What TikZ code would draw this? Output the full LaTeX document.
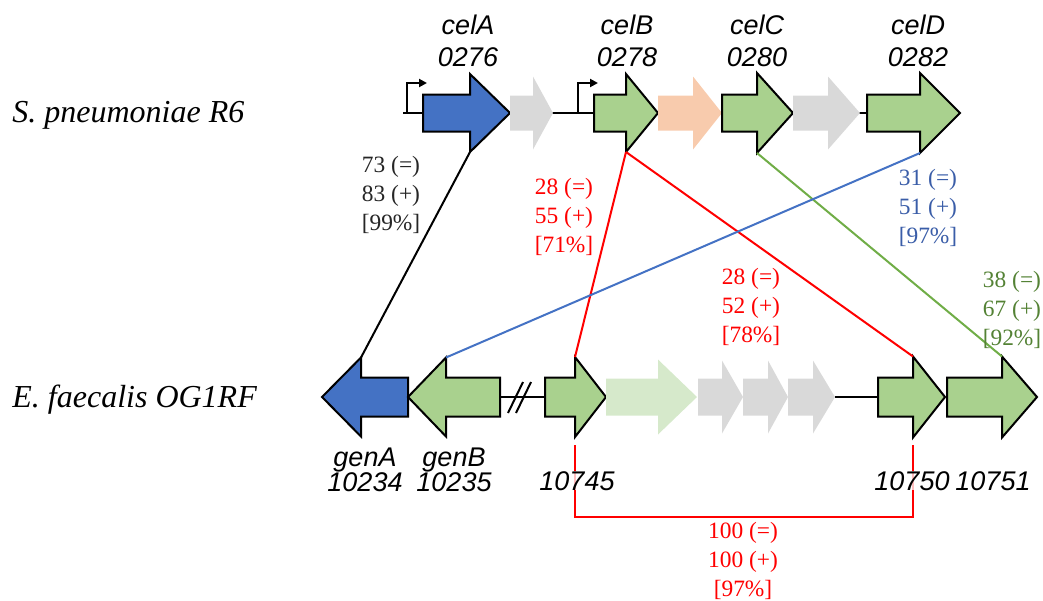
\documentclass[tikz,border=0pt]{standalone}
\usepackage{fontspec}
\setmainfont{Liberation Serif}
\setsansfont{Liberation Sans}
\usetikzlibrary{arrows.meta}

\definecolor{geneblue}{HTML}{4472C4}
\definecolor{genegreen}{HTML}{A9D18E}
\definecolor{genegray}{HTML}{D9D9D9}
\definecolor{geneorange}{HTML}{F8CBAD}
\definecolor{genefaded}{HTML}{D6E9CB}
\definecolor{statblack}{HTML}{262626}
\definecolor{statblue}{HTML}{3A5DA8}
\definecolor{statgreen}{HTML}{548235}
\definecolor{linegreen}{HTML}{70AD47}

% gene arrow: name, tail x, head base x, tip x, centre y, body half, head half, style
\newcommand{\genearrow}[8]{%
  \path[#8] (#2,#5-#6) -- (#3,#5-#6) -- (#3,#5-#7) -- (#4,#5)
    -- (#3,#5+#7) -- (#3,#5+#6) -- (#2,#5+#6) -- cycle;
  \coordinate (#1-top) at (#3,#5-#7);
  \coordinate (#1-bot) at (#3,#5+#7);}

\begin{document}
\begin{tikzpicture}[
  x=0.5pt, y=-0.5pt,
  bluegene/.style={fill=geneblue, draw=black, line width=1pt, line join=miter},
  greengene/.style={fill=genegreen, draw=black, line width=1pt, line join=miter},
  graygene/.style={fill=genegray},
  orangegene/.style={fill=geneorange},
  fadedgene/.style={fill=genefaded},
  backbone/.style={line width=1.4pt},
  promoter/.style={line width=1.2pt, -{Triangle[length=4pt, width=4pt]}},
  link/.style={line width=1pt},
  genelab/.style={font=\sffamily\itshape\fontsize{13.5}{16}\selectfont, align=center, inner sep=0},
  genelabb/.style={font=\sffamily\itshape\fontsize{13.5}{12.5}\selectfont, align=center, inner sep=0},
  species/.style={font=\itshape\fontsize{16}{18}\selectfont, inner sep=0, anchor=base west},
  stat/.style={font=\fontsize{11.7}{14.5}\selectfont, align=center, inner sep=0}
]
  \useasboundingbox (0,0) rectangle (1043,600);

  \node[species] (sp) at (12,122) {S. pneumoniae R6};
  \node[species] (ef) at (12,407) {E. faecalis OG1RF};

  \draw[backbone] (403,113) -- (867,113);
  \draw[promoter] (407,113) -- (407,83) -- (427,83);
  \draw[promoter] (578,113) -- (578,83) -- (598,83);

  \genearrow{celA}{423}{470}{510}{113}{18.5}{39}{bluegene}
  \genearrow{spg1}{510}{533}{553}{113}{17.5}{36.5}{graygene}
  \genearrow{celB}{594}{626}{658}{113}{18.5}{39}{greengene}
  \genearrow{spo1}{658}{693}{722}{113}{17.5}{36.5}{orangegene}
  \genearrow{celC}{722}{757}{793}{113}{18.5}{40}{greengene}
  \genearrow{spg2}{793}{828}{860}{113}{17.5}{36.5}{graygene}
  \genearrow{celD}{867}{920}{960}{113}{18.5}{40}{greengene}

  \draw[backbone] (500,397) -- (545,397);
  \draw[backbone] (835,397) -- (878,397);
  \draw[line width=1pt] (508,413) -- (523,382);
  \draw[line width=1pt] (516,413) -- (531,382);

  \genearrow{genA}{408}{361}{322}{397}{19.5}{39.5}{bluegene}
  \genearrow{genB}{500}{446}{408}{397}{19.5}{39.5}{greengene}
  \genearrow{ef745}{545}{575}{606}{397}{19.5}{40}{greengene}
  \genearrow{eff1}{606}{658}{697}{397}{18.5}{37.5}{fadedgene}
  \genearrow{efg1}{698}{722}{743}{397}{18.5}{36.5}{graygene}
  \genearrow{efg2}{743}{768}{788}{397}{18.5}{36.5}{graygene}
  \genearrow{efg3}{788}{813}{835}{397}{18.5}{36.5}{graygene}
  \genearrow{ef750}{878}{913}{945}{397}{19.5}{40.5}{greengene}
  \genearrow{ef751}{947}{1002}{1037}{397}{19.5}{40.5}{greengene}

  \node[genelab] (lcelA) at (468,41) {celA\\0276};
  \node[genelab] (lcelB) at (627,41) {celB\\0278};
  \node[genelab] (lcelC) at (757,41) {celC\\0280};
  \node[genelab] (lcelD) at (918,41) {celD\\0282};

  \draw[link, black] (celA-bot) -- (genA-top);
  \draw[link, red] (celB-bot) -- (ef745-top);
  \draw[link, red] (celB-bot) -- (ef750-top);
  \draw[link, linegreen] (celC-bot) -- (ef751-top);
  \draw[link, geneblue] (celD-bot) -- (genB-top);

  \coordinate (brl) at (575,445);
  \coordinate (brr) at (913,445);
  \draw[link, red] (brl) -- ++(0,72) -| (brr);

  \node[genelabb] (lgenA) at (365,470) {genA\\10234};
  \node[genelabb] (lgenB) at (454,470) {genB\\10235};
  \node[genelabb, anchor=base, fill=white, fill opacity=0.75, text opacity=1] (l745) at (577,490) {10745};
  \node[genelabb, anchor=base, fill=white, fill opacity=0.75, text opacity=1] (l750) at (912,490) {10750};
  \node[genelabb, anchor=base] (l751) at (993,490) {10751};

  \node[stat, text=statblack] (s1) at (391,195) {73 (=)\\83 (+)\\{[99\%]}};
  \node[stat, text=red] (s2) at (564,217) {28 (=)\\55 (+)\\{[71\%]}};
  \node[stat, text=red] (s3) at (751,307) {28 (=)\\52 (+)\\{[78\%]}};
  \node[stat, text=statblue] (s4) at (928,208) {31 (=)\\51 (+)\\{[97\%]}};
  \node[stat, text=statgreen] (s5) at (1012,310) {38 (=)\\67 (+)\\{[92\%]}};
  \node[stat, text=red] (s6) at (743,561) {100 (=)\\100 (+)\\{[97\%]}};
\end{tikzpicture}
\end{document}
